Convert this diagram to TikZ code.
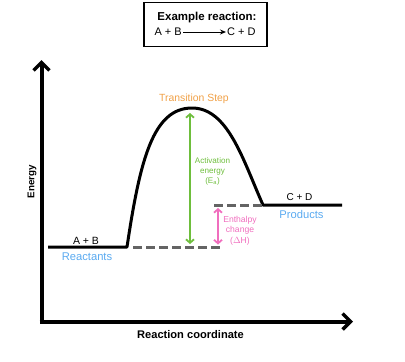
\documentclass[tikz,border=0pt]{standalone}
\usepackage{fontspec}
\setmainfont{Liberation Sans}
\usepackage{tikz}
\usetikzlibrary{arrows.meta}
\usetikzlibrary{calc}

\definecolor{tsorange}{RGB}{240,160,70}
\definecolor{eagreen}{RGB}{110,190,60}
\definecolor{dhpink}{RGB}{240,110,190}
\definecolor{stateblue}{RGB}{90,170,240}
\definecolor{levelgray}{RGB}{100,100,100}

\tikzset{
  axis/.style={line width=4pt, -{Straight Barb[length=8pt,width=16pt,line width=3.5pt]}},
  path line/.style={line width=3pt, line join=round},
  level/.style={line width=3pt, levelgray, dash pattern=on 9pt off 4pt},
  gap/.style={line width=1.8pt, {Straight Barb[length=3.5pt,width=8pt]}-{Straight Barb[length=3.5pt,width=8pt]}},
  lbl/.style={inner sep=0pt, font=\fontsize{#1}{#1}\selectfont},
  lbl/.default=9
}

\begin{document}
\begin{tikzpicture}[x=1pt, y=-1pt]
  \useasboundingbox (0,0) rectangle (405,362);

  % example box
  \node[draw, line width=1.8pt, minimum width=123pt, minimum height=44pt] (box) at (205.5,24.5) {};
  \node[lbl, font=\bfseries\fontsize{11.5}{11.5}\selectfont] (title) at (207,18) {Example reaction:};
  \node[lbl=11, anchor=east] (lhs) at (182,32) {A + B};
  \node[lbl=11, anchor=west] (rhs) at (227,32) {C + D};
  \draw[line width=1pt, -{Stealth[length=6pt,width=5pt]}] ($(lhs.east)+(1,0)$) -- ($(rhs.west)+(-1,0)$);

  % axes
  \coordinate (origin) at (41.5,321.5);
  \coordinate (ytip) at (41.5,60);
  \coordinate (xtip) at (353,321.5);
  \draw[axis] (origin) ++(0,2) -- (ytip);
  \draw[axis] (origin) ++(-2,0) -- (xtip);
  \node[lbl, font=\bfseries\fontsize{9.8}{9.8}\selectfont, rotate=90] (ylab) at (32,181.5) {Energy};
  \node[lbl, font=\bfseries\fontsize{11.1}{11.1}\selectfont] (xlab) at (190.5,335) {Reaction coordinate};

  % energy profile
  \coordinate (r0) at (48,247);
  \coordinate (r1) at (127,247);
  \coordinate (ts) at (192,108);
  \coordinate (p0) at (263,205);
  \coordinate (p1) at (342,205);
  \draw[path line] (r0) -- (r1)
    .. controls (140,160) and (153,108) .. (ts)
    .. controls (228,108) and (243,160) .. (p0) -- (p1);

  % reference levels
  \coordinate (lvla) at (133,247);
  \coordinate (lvlb) at (221,247);
  \coordinate (lvlc) at (214,205);
  \draw[level] (lvla) -- (lvlb);
  \draw[level] (lvlc) -- (p0);

  % labels
  \node[lbl=10.5] (ab) at (86,240.5) {A + B};
  \node[lbl=11.2, stateblue] (react) at (87,257) {Reactants};
  \node[lbl=10] (cd) at (299.5,197.5) {C + D};
  \node[lbl=11.2, stateblue] (prod) at (301.5,214.5) {Products};
  \node[lbl=10.4, tsorange] (tslab) at (194,99) {Transition Step};

  % activation energy
  \coordinate (eatop) at (190,113);
  \coordinate (eabot) at (190,244);
  \draw[gap, eagreen] (eatop) -- (eabot);
  \node[lbl, eagreen, align=center, font=\fontsize{8.1}{9.6}\selectfont] (ealab) at (212.5,171.5) {Activation\\energy\\(E\textsubscript{a})};

  % enthalpy change
  \coordinate (dhtop) at (218,208);
  \coordinate (dhbot) at (218,244.5);
  \draw[gap, dhpink] (dhtop) -- (dhbot);
  \node[lbl, dhpink, align=center, font=\fontsize{8.6}{10.3}\selectfont] (dhlab) at (240,230.5) {Enthalpy\\change\\($\Delta$H)};
\end{tikzpicture}
\end{document}
